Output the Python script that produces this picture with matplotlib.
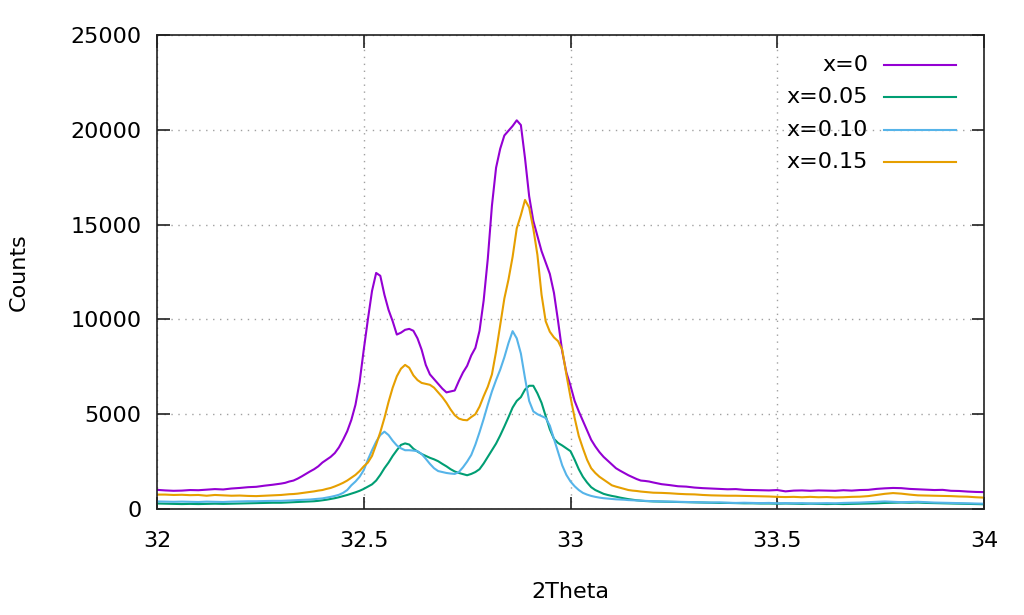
import matplotlib

matplotlib.use("Agg")
import matplotlib.pyplot as plt
import numpy as np
from matplotlib.lines import Line2D

# 2-theta grid: coarse in the flat tails, fine around the peaks
x_left = np.round(np.arange(32.00, 32.29, 0.02), 2)
x_core = np.round(np.arange(32.30, 33.205, 0.01), 2)
x_right = np.round(np.arange(33.22, 34.005, 0.02), 2)
two_theta = np.concatenate([x_left, x_core, x_right])

counts_x000 = [
    1010, 980, 960, 970, 1000, 990, 1020, 1050, 1030, 1080, 1110, 1150, 1170, 1230, 1280,
    1340, 1380, 1450, 1500, 1600, 1720, 1850, 1980, 2100, 2250,
    2450, 2600, 2750, 2950, 3250, 3650, 4100, 4700, 5500, 6700,
    8400, 10000, 11500, 12450, 12300, 11300, 10500, 9900, 9200, 9300,
    9450, 9500, 9400, 9000, 8400, 7600, 7100, 6850, 6600, 6350,
    6150, 6200, 6250, 6750, 7200, 7550, 8100, 8500, 9400, 11000,
    13200, 16000, 18000, 19000, 19700, 19950, 20200, 20500, 20250, 18500,
    16500, 15200, 14400, 13600, 13000, 12400, 11400, 9900, 8300, 7200,
    6500, 5700, 5150, 4650, 4150, 3650, 3300, 3000, 2750, 2550,
    2350, 2150, 2020, 1900, 1780, 1680, 1580, 1500, 1480, 1450,
    1400,
    1310, 1260, 1200, 1180, 1130, 1100, 1080, 1060, 1040, 1050,
    1010, 1000, 990, 980, 1000, 930, 970, 980, 960, 980,
    970, 960, 990, 970, 1000, 1010, 1060, 1090, 1110, 1100,
    1060, 1040, 1020, 1000, 1010, 960, 950, 920, 900, 890,
]
counts_x005 = [
    290, 280, 270, 260, 270, 260, 270, 280, 270, 280, 290, 300, 310, 320, 330,
    330, 340, 350, 360, 370, 380, 390, 400, 410, 430,
    460, 490, 530, 570, 620, 680, 740, 810, 880, 960,
    1060, 1180, 1300, 1500, 1800, 2150, 2450, 2800, 3100, 3380,
    3460, 3400, 3180, 3030, 2900, 2800, 2700, 2620, 2520, 2380,
    2250, 2100, 1980, 1900, 1840, 1780, 1850, 1950, 2100, 2400,
    2750, 3100, 3450, 3880, 4350, 4840, 5350, 5700, 5900, 6300,
    6500, 6500, 6100, 5600, 4900, 4200, 3700, 3480, 3350, 3200,
    3050, 2600, 2100, 1700, 1400, 1150, 1000, 900, 800, 740,
    690, 650, 600, 560, 520, 490, 460, 440, 420, 410,
    400,
    390, 380, 370, 360, 350, 340, 330, 320, 320, 310,
    300, 300, 290, 290, 280, 290, 280, 270, 280, 270,
    260, 270, 260, 270, 280, 290, 300, 320, 330, 340,
    330, 340, 320, 310, 300, 290, 280, 270, 260, 250,
]
counts_x010 = [
    400, 390, 380, 390, 380, 370, 390, 380, 370, 390, 400, 410, 410, 420, 430,
    430, 440, 450, 460, 470, 480, 490, 500, 520, 540,
    560, 600, 640, 690, 750, 850, 1000, 1250, 1450, 1700,
    2050, 2600, 3100, 3550, 3900, 4080, 3900, 3600, 3350, 3200,
    3100, 3100, 3080, 3050, 2900, 2650, 2380, 2150, 2000, 1950,
    1900, 1870, 1850, 1950, 2200, 2500, 2850, 3400, 4050, 4750,
    5500, 6200, 6800, 7350, 8000, 8750, 9380, 9000, 8200, 6900,
    5700, 5150, 5000, 4900, 4800, 4400, 3700, 3000, 2300, 1800,
    1450, 1200, 1000, 850, 760, 690, 640, 600, 570, 550,
    530, 510, 500, 490, 470, 460, 450, 440, 430, 420,
    410,
    400, 390, 380, 370, 360, 350, 340, 350, 330, 320,
    330, 320, 310, 320, 300, 310, 300, 310, 290, 300,
    310, 300, 320, 330, 340, 360, 380, 400, 380, 360,
    370, 380, 360, 340, 330, 320, 310, 300, 290, 280,
]
counts_x015 = [
    760, 760, 740, 750, 730, 740, 700, 740, 720, 700, 710, 690, 680, 700, 720,
    740, 760, 780, 790, 810, 840, 870, 900, 930, 970,
    1000, 1060, 1110, 1190, 1280, 1380, 1500, 1650, 1800, 2000,
    2250, 2450, 2800, 3400, 4050, 4800, 5650, 6400, 7000, 7400,
    7600, 7450, 7050, 6800, 6650, 6600, 6550, 6400, 6150, 5900,
    5600, 5250, 4950, 4770, 4700, 4680, 4850, 5000, 5400, 5950,
    6450, 7100, 8300, 9700, 11100, 12100, 13300, 14800, 15500, 16300,
    15900, 14800, 13400, 11300, 9900, 9350, 9050, 8850, 8400, 7100,
    5900, 4800, 3850, 3200, 2600, 2150, 1900, 1700, 1550, 1400,
    1250, 1180, 1120, 1060, 1000, 970, 950, 920, 900, 880,
    860,
    850, 830, 800, 780, 770, 740, 720, 710, 700, 700,
    690, 680, 670, 660, 640, 630, 640, 620, 640, 620,
    630, 610, 620, 640, 650, 680, 740, 800, 840, 810,
    760, 720, 710, 700, 690, 680, 660, 650, 620, 600,
]

labels = ["x=0", "x=0.05", "x=0.10", "x=0.15"]
colors = ["#9400d3", "#009e73", "#56b4e9", "#e69f00"]
series = [counts_x000, counts_x005, counts_x010, counts_x015]

plt.rcParams["font.family"] = "DejaVu Sans"
plt.rcParams["font.size"] = 16

fig = plt.figure(figsize=(10.24, 6.15), dpi=100)
ax = fig.add_axes([157 / 1024, 1 - 509 / 615, 827 / 1024, 474 / 615])

for y, c in zip(series, colors):
    ax.plot(two_theta, y, color=c, lw=1.5)

ax.set_xlim(32, 34)
ax.set_ylim(0, 25000)
ax.set_xticks([32, 32.5, 33, 33.5, 34])
ax.set_xticklabels(["32", "32.5", "33", "33.5", "34"])
ax.set_yticks(range(0, 25001, 5000))
ax.grid(True, color="#a0a0a0", linestyle=(0, (1, 4)), lw=1.0)
ax.tick_params(direction="in", length=9, width=1.2, top=True, right=True,
               colors="#202020", labelcolor="black")
ax.tick_params(axis="x", pad=16)
ax.tick_params(axis="y", pad=11)
for s in ax.spines.values():
    s.set_linewidth(1.2)
    s.set_color("#202020")

ax.set_xlabel("2Theta", labelpad=22)
ax.set_ylabel("Counts", labelpad=30)

# gnuplot-style key: right-aligned text, sample line on the right
for i, (lab, c) in enumerate(zip(labels, colors)):
    yy = 1 - (65 + i * 32.3) / 615
    fig.text(868 / 1024, yy, lab, ha="right", va="center", fontsize=16)
    fig.add_artist(Line2D([884 / 1024, 956 / 1024], [yy, yy], color=c, lw=1.5,
                          transform=fig.transFigure))

fig.savefig("out.png", dpi=100)
